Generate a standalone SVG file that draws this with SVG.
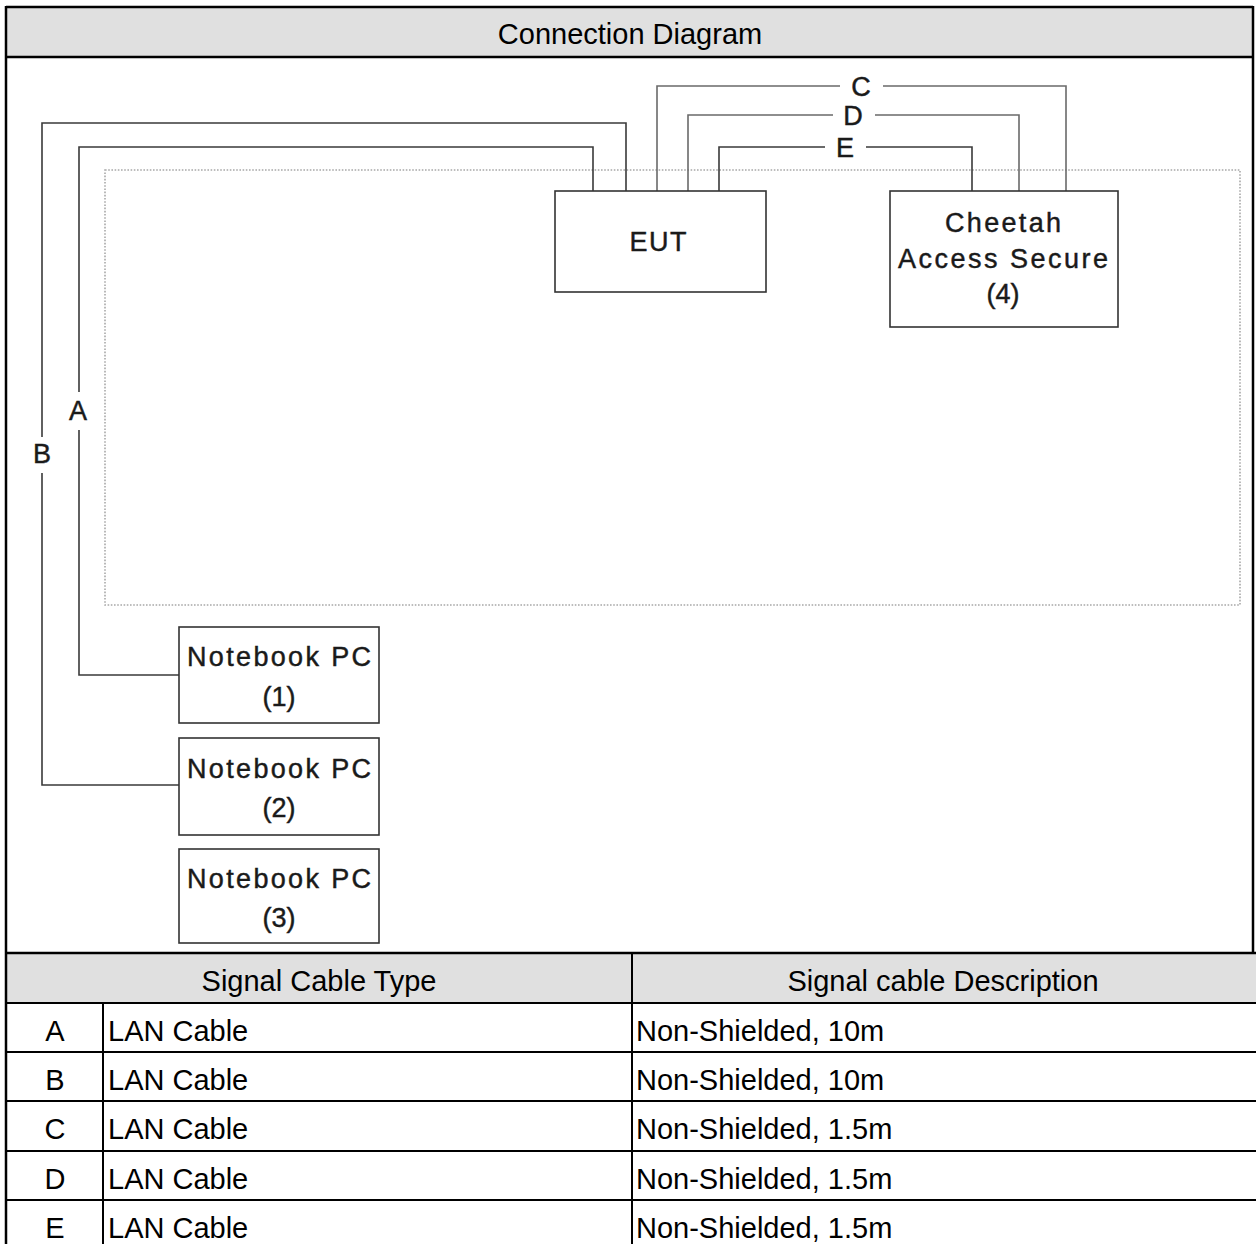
<svg xmlns="http://www.w3.org/2000/svg" width="1256" height="1244" viewBox="0 0 1256 1244">
<style>
.rule{stroke:#000;stroke-width:2.5}
.thin{stroke:#000;stroke-width:2}
.hdr{fill:#e0e0e0}
.tt{font-family:"Liberation Sans",Arial,sans-serif;font-size:29px;fill:#000}
.box{fill:#fff;stroke:#333;stroke-width:1.6}
.dl{font-family:"Liberation Sans",Arial,sans-serif;font-size:27px;fill:#1a1a1a;stroke:#1a1a1a;stroke-width:0.45}
.wire{fill:none;stroke:#3a3a3a;stroke-width:1.6}
.wire2{fill:none;stroke:#6a6a6a;stroke-width:1.6}
.dot{fill:none;stroke:#a8a8a8;stroke-width:1.6;stroke-dasharray:1.6 1.6}
</style>
<!-- title header -->
<rect class="hdr" x="6" y="7" width="1247" height="50"/>
<text class="tt" x="630" y="44" text-anchor="middle">Connection Diagram</text>
<!-- zone -->
<rect class="dot" x="105" y="170" width="1135" height="435"/>
<!-- connectors -->
<g id="connectors">
<path class="wire" d="M593,191 V147 H79 V392 M79,430 V675 H179"/>
<path class="wire" d="M626,191 V123 H42 V437 M42,473 V785 H179"/>
<path class="wire2" d="M657,191 V86 H840 M883,86 H1066 V191"/>
<path class="wire2" d="M688,191 V115 H833 M875,115 H1019 V191"/>
<path class="wire" d="M719,191 V147 H825 M866,147 H972 V191"/>
<text class="dl" x="861" y="96" text-anchor="middle">C</text>
<text class="dl" x="853" y="125" text-anchor="middle">D</text>
<text class="dl" x="845" y="157" text-anchor="middle">E</text>
<text class="dl" x="78" y="420" text-anchor="middle">A</text>
<text class="dl" x="42" y="463" text-anchor="middle">B</text>
</g>
<g id="eut">
<rect class="box" x="555" y="191" width="211" height="101"/>
<text class="dl" x="658" y="251" text-anchor="middle" font-size="28" textLength="57" lengthAdjust="spacing">EUT</text>
</g>
<g id="cheetah">
<rect class="box" x="890" y="191" width="228" height="136"/>
<text class="dl" x="1003" y="232" text-anchor="middle" textLength="116" lengthAdjust="spacing">Cheetah</text>
<text class="dl" x="1003" y="268" text-anchor="middle" textLength="210" lengthAdjust="spacing">Access Secure</text>
<text class="dl" x="1003" y="303" text-anchor="middle">(4)</text>
</g>
<g id="pc1">
<rect class="box" x="179" y="627" width="200" height="96"/>
<text class="dl" x="279" y="666" text-anchor="middle" textLength="184" lengthAdjust="spacing">Notebook PC</text>
<text class="dl" x="279" y="706" text-anchor="middle">(1)</text>
</g>
<g id="pc2">
<rect class="box" x="179" y="738" width="200" height="97"/>
<text class="dl" x="279" y="778" text-anchor="middle" textLength="184" lengthAdjust="spacing">Notebook PC</text>
<text class="dl" x="279" y="817" text-anchor="middle">(2)</text>
</g>
<g id="pc3">
<rect class="box" x="179" y="849" width="200" height="94"/>
<text class="dl" x="279" y="888" text-anchor="middle" textLength="184" lengthAdjust="spacing">Notebook PC</text>
<text class="dl" x="279" y="927" text-anchor="middle">(3)</text>
</g>
<!-- table -->
<g id="table">
<rect class="hdr" x="6" y="953" width="1250" height="50"/>
<line class="thin" x1="6" y1="1003" x2="1256" y2="1003"/>
<line class="thin" x1="6" y1="1052" x2="1256" y2="1052"/>
<line class="thin" x1="6" y1="1101" x2="1256" y2="1101"/>
<line class="thin" x1="6" y1="1151" x2="1256" y2="1151"/>
<line class="thin" x1="6" y1="1200" x2="1256" y2="1200"/>
<line class="thin" x1="103" y1="1003" x2="103" y2="1244"/>
<line class="thin" x1="632" y1="953" x2="632" y2="1244"/>
<text class="tt" x="319" y="991" text-anchor="middle">Signal Cable Type</text>
<text class="tt" x="943" y="991" text-anchor="middle">Signal cable Description</text>
<text class="tt" x="55" y="1041" text-anchor="middle">A</text>
<text class="tt" x="108" y="1041">LAN Cable</text>
<text class="tt" x="636" y="1041">Non-Shielded, 10m</text>
<text class="tt" x="55" y="1090" text-anchor="middle">B</text>
<text class="tt" x="108" y="1090">LAN Cable</text>
<text class="tt" x="636" y="1090">Non-Shielded, 10m</text>
<text class="tt" x="55" y="1139" text-anchor="middle">C</text>
<text class="tt" x="108" y="1139">LAN Cable</text>
<text class="tt" x="636" y="1139">Non-Shielded, 1.5m</text>
<text class="tt" x="55" y="1189" text-anchor="middle">D</text>
<text class="tt" x="108" y="1189">LAN Cable</text>
<text class="tt" x="636" y="1189">Non-Shielded, 1.5m</text>
<text class="tt" x="55" y="1238" text-anchor="middle">E</text>
<text class="tt" x="108" y="1238">LAN Cable</text>
<text class="tt" x="636" y="1238">Non-Shielded, 1.5m</text>
</g>
<!-- frame lines -->
<line class="rule" x1="6" y1="7" x2="1253" y2="7"/>
<line class="rule" x1="6" y1="57" x2="1253" y2="57"/>
<line class="rule" x1="6" y1="953" x2="1256" y2="953"/>
<line class="rule" x1="6" y1="6" x2="6" y2="1244"/>
<line class="rule" x1="1253" y1="6" x2="1253" y2="953"/>
</svg>
